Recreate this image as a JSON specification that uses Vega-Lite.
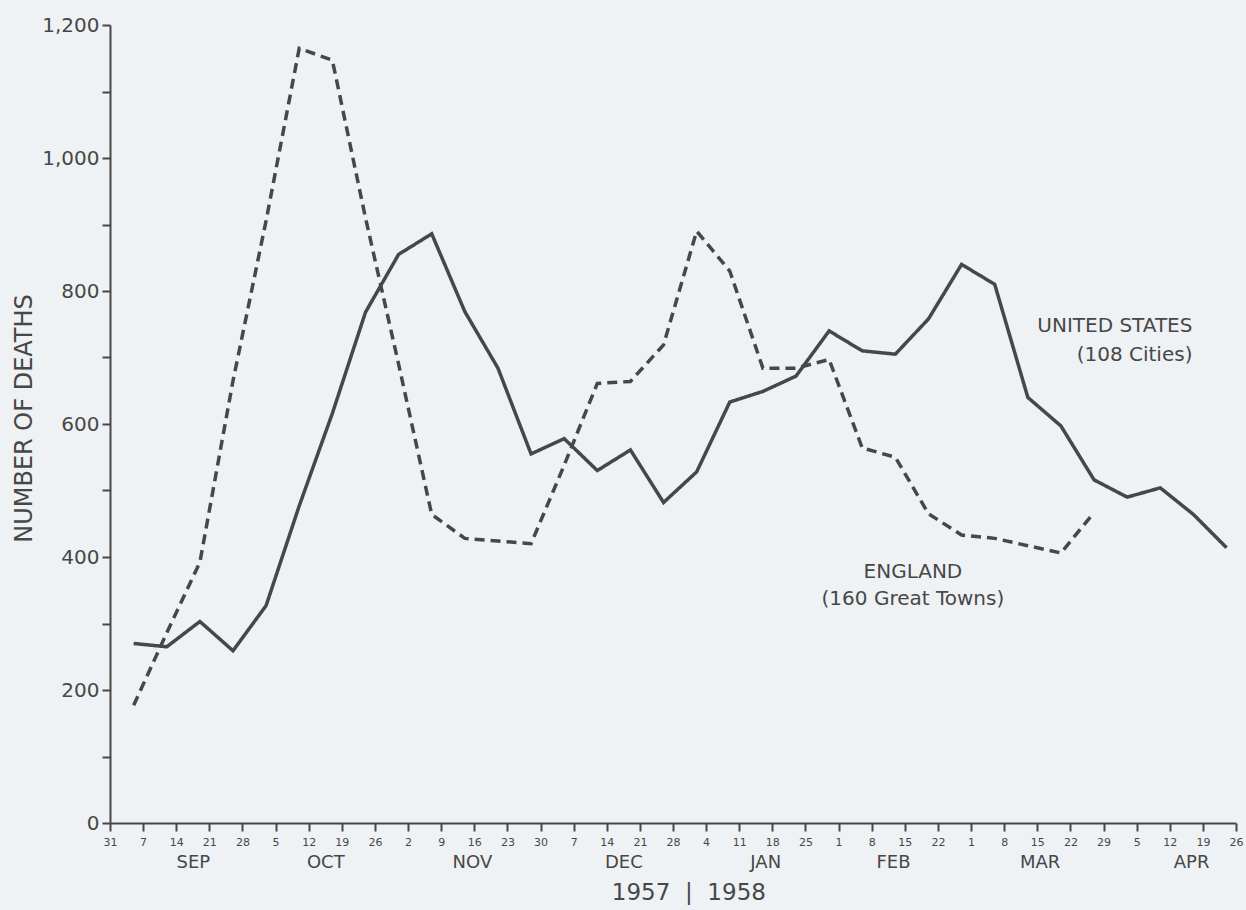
{
  "$schema": "https://vega.github.io/schema/vega-lite/v6.json",
  "width": 1126,
  "height": 798,
  "autosize": "none",
  "padding": {"left": 110, "top": 25, "right": 10, "bottom": 87},
  "background": "#eef2f5",
  "config": {
    "view": {"stroke": null},
    "font": "DejaVu Sans",
    "axis": {"grid": false, "domainColor": "#474747", "domainWidth": 2, "tickColor": "#474747", "tickWidth": 2, "labelColor": "#474747", "titleColor": "#474747", "labelFont": "DejaVu Sans", "titleFont": "DejaVu Sans"}
  },
  "layer": [
    {
      "data": {
        "values": [
          {"week": "1957-09-05T00:00:00", "series": "United States", "deaths": 270},
          {"week": "1957-09-12T00:00:00", "series": "United States", "deaths": 265},
          {"week": "1957-09-19T00:00:00", "series": "United States", "deaths": 303},
          {"week": "1957-09-26T00:00:00", "series": "United States", "deaths": 259},
          {"week": "1957-10-03T00:00:00", "series": "United States", "deaths": 327},
          {"week": "1957-10-10T00:00:00", "series": "United States", "deaths": 477},
          {"week": "1957-10-17T00:00:00", "series": "United States", "deaths": 616},
          {"week": "1957-10-24T00:00:00", "series": "United States", "deaths": 768},
          {"week": "1957-10-31T00:00:00", "series": "United States", "deaths": 855},
          {"week": "1957-11-07T00:00:00", "series": "United States", "deaths": 886},
          {"week": "1957-11-14T00:00:00", "series": "United States", "deaths": 769},
          {"week": "1957-11-21T00:00:00", "series": "United States", "deaths": 684},
          {"week": "1957-11-28T00:00:00", "series": "United States", "deaths": 555},
          {"week": "1957-12-05T00:00:00", "series": "United States", "deaths": 578},
          {"week": "1957-12-12T00:00:00", "series": "United States", "deaths": 530},
          {"week": "1957-12-19T00:00:00", "series": "United States", "deaths": 561},
          {"week": "1957-12-26T00:00:00", "series": "United States", "deaths": 482},
          {"week": "1958-01-02T00:00:00", "series": "United States", "deaths": 528},
          {"week": "1958-01-09T00:00:00", "series": "United States", "deaths": 633},
          {"week": "1958-01-16T00:00:00", "series": "United States", "deaths": 649},
          {"week": "1958-01-23T00:00:00", "series": "United States", "deaths": 672},
          {"week": "1958-01-30T00:00:00", "series": "United States", "deaths": 740},
          {"week": "1958-02-06T00:00:00", "series": "United States", "deaths": 710},
          {"week": "1958-02-13T00:00:00", "series": "United States", "deaths": 705},
          {"week": "1958-02-20T00:00:00", "series": "United States", "deaths": 758},
          {"week": "1958-02-27T00:00:00", "series": "United States", "deaths": 840},
          {"week": "1958-03-06T00:00:00", "series": "United States", "deaths": 810},
          {"week": "1958-03-13T00:00:00", "series": "United States", "deaths": 640},
          {"week": "1958-03-20T00:00:00", "series": "United States", "deaths": 597},
          {"week": "1958-03-27T00:00:00", "series": "United States", "deaths": 516},
          {"week": "1958-04-03T00:00:00", "series": "United States", "deaths": 490},
          {"week": "1958-04-10T00:00:00", "series": "United States", "deaths": 504},
          {"week": "1958-04-17T00:00:00", "series": "United States", "deaths": 464},
          {"week": "1958-04-24T00:00:00", "series": "United States", "deaths": 414},
          {"week": "1957-09-05T00:00:00", "series": "England", "deaths": 177},
          {"week": "1957-09-12T00:00:00", "series": "England", "deaths": 286},
          {"week": "1957-09-19T00:00:00", "series": "England", "deaths": 392},
          {"week": "1957-09-26T00:00:00", "series": "England", "deaths": 665},
          {"week": "1957-10-03T00:00:00", "series": "England", "deaths": 906},
          {"week": "1957-10-10T00:00:00", "series": "England", "deaths": 1165},
          {"week": "1957-10-17T00:00:00", "series": "England", "deaths": 1147},
          {"week": "1957-10-24T00:00:00", "series": "England", "deaths": 910},
          {"week": "1957-10-31T00:00:00", "series": "England", "deaths": 690},
          {"week": "1957-11-07T00:00:00", "series": "England", "deaths": 464},
          {"week": "1957-11-14T00:00:00", "series": "England", "deaths": 428},
          {"week": "1957-11-21T00:00:00", "series": "England", "deaths": 424},
          {"week": "1957-11-28T00:00:00", "series": "England", "deaths": 420},
          {"week": "1957-12-05T00:00:00", "series": "England", "deaths": 538},
          {"week": "1957-12-12T00:00:00", "series": "England", "deaths": 661},
          {"week": "1957-12-19T00:00:00", "series": "England", "deaths": 664},
          {"week": "1957-12-26T00:00:00", "series": "England", "deaths": 719},
          {"week": "1958-01-02T00:00:00", "series": "England", "deaths": 890},
          {"week": "1958-01-09T00:00:00", "series": "England", "deaths": 830},
          {"week": "1958-01-16T00:00:00", "series": "England", "deaths": 684},
          {"week": "1958-01-23T00:00:00", "series": "England", "deaths": 684},
          {"week": "1958-01-30T00:00:00", "series": "England", "deaths": 697},
          {"week": "1958-02-06T00:00:00", "series": "England", "deaths": 564},
          {"week": "1958-02-13T00:00:00", "series": "England", "deaths": 550},
          {"week": "1958-02-20T00:00:00", "series": "England", "deaths": 465},
          {"week": "1958-02-27T00:00:00", "series": "England", "deaths": 433},
          {"week": "1958-03-06T00:00:00", "series": "England", "deaths": 428},
          {"week": "1958-03-13T00:00:00", "series": "England", "deaths": 417},
          {"week": "1958-03-20T00:00:00", "series": "England", "deaths": 406},
          {"week": "1958-03-27T00:00:00", "series": "England", "deaths": 467}
        ]
      },
      "mark": {"type": "line", "strokeWidth": 3.5, "color": "#474747", "strokeJoin": "miter"},
      "encoding": {
        "x": {
          "field": "week",
          "type": "temporal",
          "scale": {"domain": [{"year": 1957, "month": 8, "date": 31}, {"year": 1958, "month": 4, "date": 26}]},
          "axis": {
            "title": null,
            "tickCount": 200,
            "values": [
              {"year": 1957, "month": 8, "date": 31}, {"year": 1957, "month": 9, "date": 7}, {"year": 1957, "month": 9, "date": 14}, {"year": 1957, "month": 9, "date": 21}, {"year": 1957, "month": 9, "date": 28},
              {"year": 1957, "month": 10, "date": 5}, {"year": 1957, "month": 10, "date": 12}, {"year": 1957, "month": 10, "date": 19}, {"year": 1957, "month": 10, "date": 26},
              {"year": 1957, "month": 11, "date": 2}, {"year": 1957, "month": 11, "date": 9}, {"year": 1957, "month": 11, "date": 16}, {"year": 1957, "month": 11, "date": 23}, {"year": 1957, "month": 11, "date": 30},
              {"year": 1957, "month": 12, "date": 7}, {"year": 1957, "month": 12, "date": 14}, {"year": 1957, "month": 12, "date": 21}, {"year": 1957, "month": 12, "date": 28},
              {"year": 1958, "month": 1, "date": 4}, {"year": 1958, "month": 1, "date": 11}, {"year": 1958, "month": 1, "date": 18}, {"year": 1958, "month": 1, "date": 25},
              {"year": 1958, "month": 2, "date": 1}, {"year": 1958, "month": 2, "date": 8}, {"year": 1958, "month": 2, "date": 15}, {"year": 1958, "month": 2, "date": 22},
              {"year": 1958, "month": 3, "date": 1}, {"year": 1958, "month": 3, "date": 8}, {"year": 1958, "month": 3, "date": 15}, {"year": 1958, "month": 3, "date": 22}, {"year": 1958, "month": 3, "date": 29},
              {"year": 1958, "month": 4, "date": 5}, {"year": 1958, "month": 4, "date": 12}, {"year": 1958, "month": 4, "date": 19}, {"year": 1958, "month": 4, "date": 26},
              {"year": 1957, "month": 9, "date": 17, "hours": 12}, {"year": 1957, "month": 10, "date": 15, "hours": 12}, {"year": 1957, "month": 11, "date": 15, "hours": 12}, {"year": 1957, "month": 12, "date": 17, "hours": 12},
              {"year": 1958, "month": 1, "date": 16, "hours": 12}, {"year": 1958, "month": 2, "date": 12, "hours": 12}, {"year": 1958, "month": 3, "date": 15, "hours": 12}, {"year": 1958, "month": 4, "date": 16, "hours": 12},
              {"year": 1957, "month": 12, "date": 31, "hours": 6}
            ],
            "labelExpr": "hours(datum.value) == 12 ? upper(timeFormat(datum.value, '%b')) : (hours(datum.value) == 6 ? '1957\u00a0\u00a0|\u00a0\u00a01958' : timeFormat(datum.value, '%-d'))",
            "labelOverlap": false,
            "labelFlush": false,
            "labelBound": false,
            "tickSize": 8,
            "tickOpacity": {"condition": {"test": "hours(datum.value) != 0", "value": 0}, "value": 1},
            "labelFontSize": {"condition": [{"test": "hours(datum.value) == 12", "value": 18}, {"test": "hours(datum.value) == 6", "value": 23}], "value": 11},
            "labelPadding": {"condition": [{"test": "hours(datum.value) == 12", "value": 22}, {"test": "hours(datum.value) == 6", "value": 50}], "value": 5}
          }
        },
        "y": {
          "field": "deaths",
          "type": "quantitative",
          "scale": {"domain": [0, 1200], "nice": false},
          "axis": {
            "title": "NUMBER OF DEATHS",
            "titleFontSize": 24,
            "titleFontWeight": "normal",
            "titleAngle": -90,
            "titleX": -86,
            "titleY": 393,
            "titleAlign": "center",
            "titleBaseline": "middle",
            "tickCount": 100,
            "values": [0, 100, 200, 300, 400, 500, 600, 700, 800, 900, 1000, 1100, 1200],
            "labelExpr": "datum.value % 200 == 0 ? format(datum.value, ',') : ''",
            "labelFontSize": 20,
            "labelPadding": 3,
            "tickSize": 8
          }
        },
        "strokeDash": {
          "field": "series",
          "type": "nominal",
          "scale": {"domain": ["United States", "England"], "range": [[1, 0], [10, 6]]},
          "legend": null
        }
      }
    },
    {
      "data": {"values": [{"label": "United States"}]},
      "mark": {"type": "text", "text": ["UNITED STATES", "(108 Cities)"], "align": "right", "baseline": "middle", "fontSize": 20, "lineHeight": 29, "color": "#474747"},
      "encoding": {
        "x": {"datum": {"year": 1958, "month": 4, "date": 16, "hours": 19}, "type": "temporal"},
        "y": {"datum": 748, "type": "quantitative"}
      }
    },
    {
      "data": {"values": [{"label": "England"}]},
      "mark": {"type": "text", "text": ["ENGLAND", "(160 Great Towns)"], "align": "center", "baseline": "middle", "fontSize": 20, "lineHeight": 27, "color": "#474747"},
      "encoding": {
        "x": {"datum": {"year": 1958, "month": 2, "date": 16, "hours": 17}, "type": "temporal"},
        "y": {"datum": 378, "type": "quantitative"}
      }
    }
  ]
}
